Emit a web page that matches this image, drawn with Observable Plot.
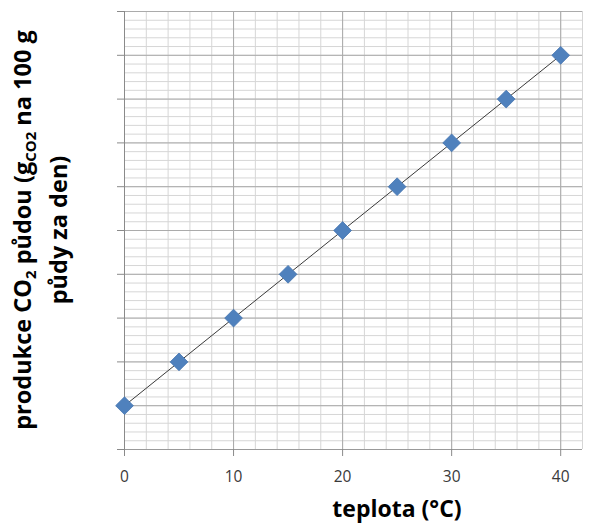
<!DOCTYPE html>
<html>
<head>
<meta charset="utf-8">
<script src="https://cdn.jsdelivr.net/npm/d3@7"></script>
<script src="https://cdn.jsdelivr.net/npm/@observablehq/plot@0.6"></script>
<style>
  html, body { margin: 0; padding: 0; background: #fff; }
  #chart svg { display: block; }
</style>
</head>
<body>
<div id="chart"></div>
<script>
// data
const temperature = [0, 5, 10, 15, 20, 25, 30, 35, 40];
const co2Production = [1, 2, 3, 4, 5, 6, 7, 8, 9];
const xTickValues = [0, 10, 20, 30, 40];
const xTickLabels = ["0", "10", "20", "30", "40"];
const xTitle = "teplota (°C)";

const data = temperature.map((t, i) => ({ t, v: co2Production[i] }));

const minorX = d3.range(0, 42.001, 2);
const minorY = d3.range(0, 10.001, 0.2);
const majorY = d3.range(0, 10.001, 1);

const chart = Plot.plot({
  width: 590,
  height: 524,
  marginLeft: 124,
  marginRight: 8,
  marginTop: 11,
  marginBottom: 75,
  x: { domain: [0, 42] },
  y: { domain: [0, 10] },
  style: { fontFamily: "'Open Sans', sans-serif", background: "#fff", overflow: "visible" },
  marks: [
    Plot.ruleX(minorX, { stroke: "#d6d6d6", strokeWidth: 1 }),
    Plot.ruleY(minorY, { stroke: "#d6d6d6", strokeWidth: 1 }),
    Plot.ruleX(xTickValues.slice(1), { stroke: "#ababab", strokeWidth: 1 }),
    Plot.ruleY(majorY, { stroke: "#ababab", strokeWidth: 1 }),
    Plot.ruleX([0], { stroke: "#8a8a8a", strokeWidth: 1 }),
    Plot.ruleY([0], { stroke: "#9a9a9a", strokeWidth: 1 }),
    Plot.axisX({
      ticks: xTickValues,
      tickFormat: (d) => xTickLabels[xTickValues.indexOf(d)],
      tickSize: 7,
      tickPadding: 14,
      fontSize: 15.5,
      stroke: "#8a8a8a",
      color: "#3a3a3a",
      label: null
    }),
    Plot.axisY({
      ticks: majorY,
      tickFormat: () => "",
      tickSize: 7,
      stroke: "#8a8a8a",
      label: null
    }),
    Plot.linearRegressionY(data, { x: "t", y: "v", ci: 0, stroke: "#3a3a3a", strokeWidth: 1 }),
    Plot.dot(data, {
      x: "t",
      y: "v",
      symbol: "diamond2",
      r: 8,
      fill: "#4f81bd",
      stroke: "#4575b0",
      strokeWidth: 0.8
    })
  ]
});

document.getElementById("chart").appendChild(chart);

const svg = d3.select(chart);

// x axis title
svg.append("text")
  .attr("x", 397)
  .attr("y", 517)
  .attr("text-anchor", "middle")
  .attr("font-family", "'Open Sans', sans-serif")
  .attr("font-weight", "bold")
  .attr("font-size", 23)
  .attr("fill", "#000")
  .text(xTitle);

// y axis title (two lines, rotated)
const yt = svg.append("text")
  .attr("transform", "translate(0,230) rotate(-90)")
  .attr("text-anchor", "middle")
  .attr("font-family", "'Open Sans', sans-serif")
  .attr("font-weight", "bold")
  .attr("font-size", 23.5)
  .attr("fill", "#000");

const line1 = yt.append("tspan").attr("x", 0).attr("y", 31);
line1.append("tspan").text("produkce CO");
line1.append("tspan").attr("font-size", 15).attr("dy", 5).text("2");
line1.append("tspan").attr("dy", -5).text(" půdou (g");
line1.append("tspan").attr("font-size", 15).attr("dy", 5).text("CO2");
line1.append("tspan").attr("dy", -5).text(" na 100 g");

yt.append("tspan").attr("x", 0).attr("y", 67).text("půdy za den)");
</script>
</body>
</html>
